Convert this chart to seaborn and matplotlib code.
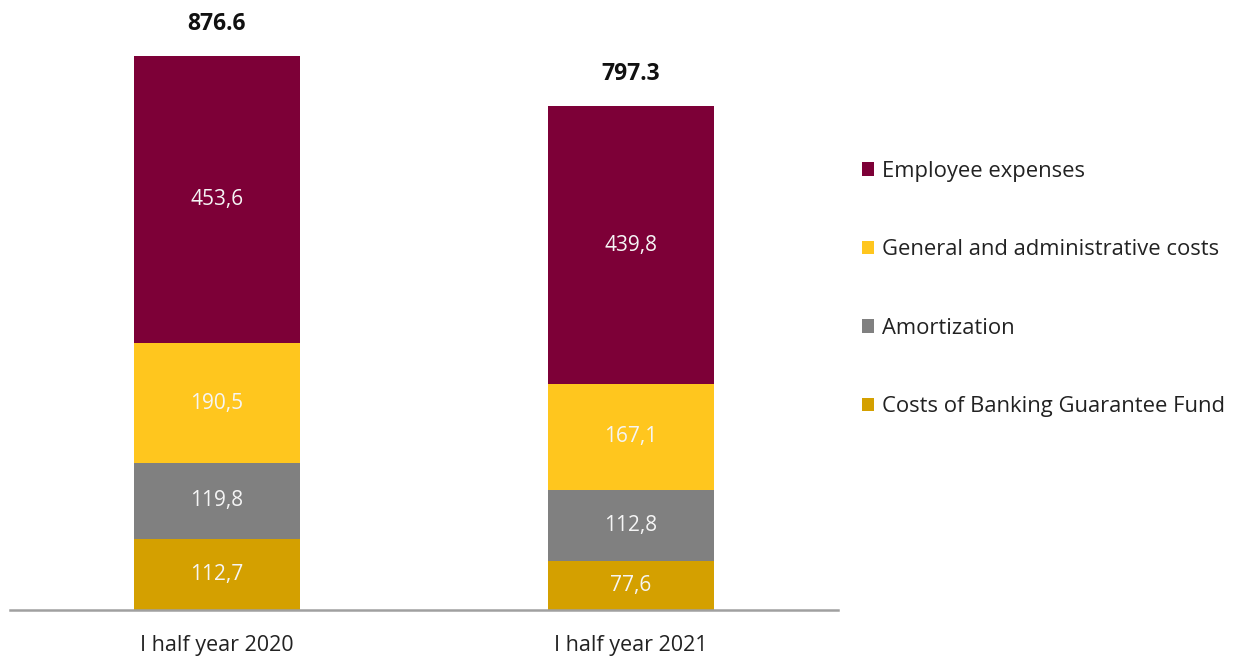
import matplotlib
matplotlib.use("Agg")
import matplotlib.pyplot as plt
from matplotlib.patches import Patch
import seaborn as sns
import pandas as pd
import numpy as np

periods = ["I half year 2020", "I half year 2021"]
bgf_costs = [112.7, 77.6]
amortization = [119.8, 112.8]
general_admin = [190.5, 167.1]
employee_expenses = [453.6, 439.8]
totals = [876.6, 797.3]

series_names = [
    "Costs of Banking Guarantee Fund",
    "Amortization",
    "General and administrative costs",
    "Employee expenses",
]
series_values = [bgf_costs, amortization, general_admin, employee_expenses]
series_colors = ["#D4A000", "#808080", "#FFC61E", "#7D0037"]

sns.set_theme(style="white")
plt.rcParams["font.family"] = ["Open Sans", "DejaVu Sans"]

fig = plt.figure(figsize=(12.34, 6.59), dpi=100)
ax = fig.add_axes([10 / 1234, 1 - 610 / 659, 828 / 1234, 600 / 659])

# Stacked bars: draw cumulative heights from the top layer down
cum = np.cumsum(np.array(series_values), axis=0)
for i in range(len(series_names) - 1, -1, -1):
    df = pd.DataFrame({"period": periods, "value": cum[i]})
    sns.barplot(data=df, x="period", y="value", color=series_colors[i],
                width=0.4, saturation=1, ax=ax, linewidth=0)

# Segment value labels
for i, vals in enumerate(series_values):
    for j, v in enumerate(vals):
        base = cum[i][j] - v
        ax.text(j, base + v / 2, f"{v:.1f}".replace(".", ","), ha="center",
                va="center", color="#F5F5F5", fontsize=15)

# Totals above bars
for j, t in enumerate(totals):
    ax.text(j, t + 51, f"{t:.1f}", ha="center", va="center",
            color="#111111", fontsize=16.5, fontweight="bold")

ax.set_xlim(-0.5, 1.5)
ax.set_ylim(0, 950)
ax.set_xlabel("")
ax.set_ylabel("")
ax.set_yticks([])
for s in ["top", "left", "right"]:
    ax.spines[s].set_visible(False)
ax.spines["bottom"].set_color("#A0A0A0")
ax.spines["bottom"].set_linewidth(1.8)
ax.tick_params(axis="x", length=0, pad=18, labelsize=15.5, labelcolor="#222222")

handles = [Patch(facecolor=series_colors[i], edgecolor="none")
           for i in range(len(series_names) - 1, -1, -1)]
labels = [series_names[i] for i in range(len(series_names) - 1, -1, -1)]
fig.legend(handles, labels, loc="upper left", bbox_to_anchor=(842 / 1234, 1 - 141 / 659),
           frameon=False, fontsize=15.8, handlelength=0.55, handleheight=0.55,
           handletextpad=0.35, labelspacing=2.62, labelcolor="#222222")

fig.savefig("out.png", dpi=100)
